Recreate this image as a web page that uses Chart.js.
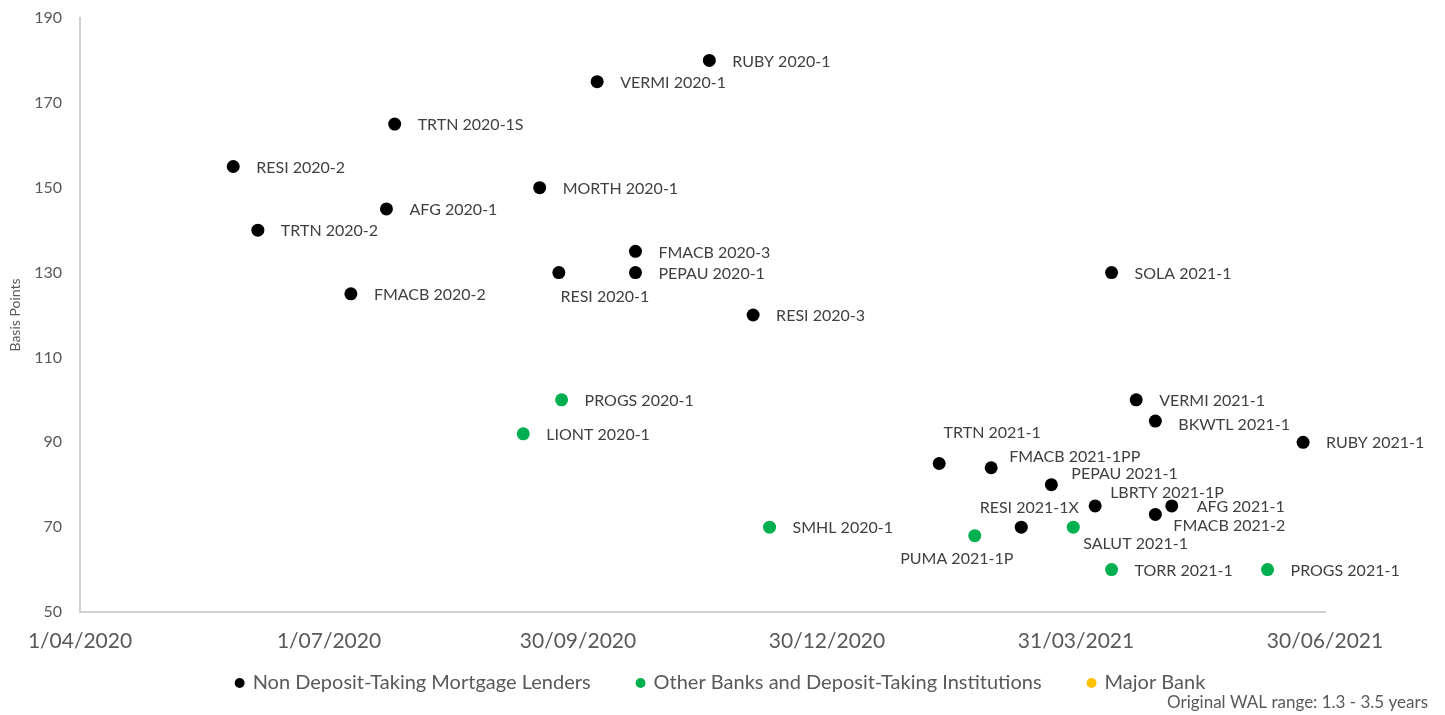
<!DOCTYPE html>
<html><head><meta charset="utf-8">
<script src="https://cdn.jsdelivr.net/npm/chart.js@4.4.1/dist/chart.umd.min.js"></script>
<style>html,body{margin:0;padding:0;background:#fff;overflow:hidden}#wrap{width:1445px;height:715px}</style>
</head><body><div id="wrap"><canvas id="c" width="1445" height="715"></canvas></div>
<script>
const seriesNames = ['Non Deposit-Taking Mortgage Lenders', 'Other Banks and Deposit-Taking Institutions', 'Major Bank'];

const nonBankLabels = ['RUBY 2020-1','VERMI 2020-1','TRTN 2020-1S','RESI 2020-2','MORTH 2020-1','AFG 2020-1','TRTN 2020-2','FMACB 2020-3','RESI 2020-1','PEPAU 2020-1','FMACB 2020-2','RESI 2020-3','SOLA 2021-1','VERMI 2021-1','BKWTL 2021-1','RUBY 2021-1','TRTN 2021-1','FMACB 2021-1PP','PEPAU 2021-1','RESI 2021-1X','LBRTY 2021-1P','AFG 2021-1','FMACB 2021-2'];
const nonBankDates = ['2020-11-17','2020-10-07','2020-07-25','2020-05-27','2020-09-16','2020-07-22','2020-06-05','2020-10-21','2020-09-23','2020-10-21','2020-07-09','2020-12-03','2021-04-13','2021-04-22','2021-04-29','2021-06-22','2021-02-09','2021-02-28','2021-03-22','2021-03-11','2021-04-07','2021-05-05','2021-04-29'];
const nonBankSpreads = [180,175,165,155,150,145,140,135,130,130,125,120,130,100,95,90,85,84,80,70,75,75,73];

const otherBankLabels = ['PROGS 2020-1','LIONT 2020-1','SMHL 2020-1','PUMA 2021-1P','SALUT 2021-1','TORR 2021-1','PROGS 2021-1'];
const otherBankDates = ['2020-09-24','2020-09-10','2020-12-09','2021-02-22','2021-03-30','2021-04-13','2021-06-09'];
const otherBankSpreads = [100,92,70,68,70,60,60];

const majorBankLabels = [];
const majorBankDates = [];
const majorBankSpreads = [];

const xTickDates = ['2020-04-01','2020-07-01','2020-09-30','2020-12-30','2021-03-31','2021-06-30'];
const yTickValues = [50,70,90,110,130,150,170,190];
const yAxisTitle = 'Basis Points';
const footnote = 'Original WAL range: 1.3 - 3.5 years';

// label placement (styling), keyed by label
const defaultLabelPos = {dx: 23, dy: 1, align: 'left'};
const labelPos = {
  'RESI 2020-1': {dx: 46, dy: 24, align: 'center'},
  'TRTN 2021-1': {dx: 53, dy: -31, align: 'center'},
  'FMACB 2021-1PP': {dx: 18, dy: -11, align: 'left'},
  'PEPAU 2021-1': {dx: 20, dy: -11, align: 'left'},
  'LBRTY 2021-1P': {dx: 15, dy: -13, align: 'left'},
  'RESI 2021-1X': {dx: 8, dy: -19, align: 'center'},
  'PUMA 2021-1P': {dx: -18, dy: 23, align: 'center'},
  'SALUT 2021-1': {dx: 10, dy: 17, align: 'left'},
  'FMACB 2021-2': {dx: 18, dy: 11, align: 'left'},
  'BKWTL 2021-1': {dx: 23, dy: 4, align: 'left'},
  'AFG 2021-1': {dx: 25, dy: 1, align: 'left'}
};

const FONT = 'Lato, "Open Sans", sans-serif';
const base = Date.UTC(2020, 3, 1);
function toDay(s) { const [y, m, d] = s.split('-').map(Number); return Math.round((Date.UTC(y, m - 1, d) - base) / 86400000); }
function fmtDay(v) { const dt = new Date(base + v * 86400000); return dt.getUTCDate() + '/' + String(dt.getUTCMonth() + 1).padStart(2, '0') + '/' + dt.getUTCFullYear(); }
function pts(labels, dates, vals) { return labels.map((l, i) => ({x: toDay(dates[i]), y: vals[i], label: l})); }

const pointLabels = {
  id: 'pointLabels',
  afterDatasetsDraw(chart) {
    const ctx = chart.ctx;
    ctx.save();
    ctx.font = '16px ' + FONT;
    ctx.fillStyle = '#404040';
    ctx.textBaseline = 'middle';
    chart.data.datasets.forEach((ds, di) => {
      const meta = chart.getDatasetMeta(di);
      meta.data.forEach((el, i) => {
        const name = ds.data[i].label;
        const o = labelPos[name] || defaultLabelPos;
        ctx.textAlign = o.align;
        ctx.fillText(name, el.x + o.dx, el.y + o.dy);
      });
    });
    ctx.restore();
  }
};

function draw() {
  new Chart(document.getElementById('c'), {
    type: 'scatter',
    data: {
      datasets: [
        {label: seriesNames[0], data: pts(nonBankLabels, nonBankDates, nonBankSpreads), backgroundColor: '#000000', borderColor: '#000000', borderWidth: 0, pointRadius: 6.5, pointHoverRadius: 6.5},
        {label: seriesNames[1], data: pts(otherBankLabels, otherBankDates, otherBankSpreads), backgroundColor: '#00B050', borderColor: '#00B050', borderWidth: 0, pointRadius: 6.5, pointHoverRadius: 6.5},
        {label: seriesNames[2], data: pts(majorBankLabels, majorBankDates, majorBankSpreads), backgroundColor: '#FFC000', borderColor: '#FFC000', borderWidth: 0, pointRadius: 6.5}
      ]
    },
    options: {
      responsive: false, animation: false, devicePixelRatio: 1,
      layout: {padding: {top: 18, right: 17, left: 14, bottom: 1.8}},
      plugins: {
        tooltip: {enabled: false},
        legend: {
          position: 'bottom',
          labels: {usePointStyle: true, pointStyle: 'circle', boxWidth: 6, boxHeight: 7, padding: 47, color: '#595959', font: {family: FONT, size: 20}}
        },
        subtitle: {display: true, text: footnote, position: 'bottom', align: 'end', color: '#595959', font: {family: FONT, size: 17}, padding: {top: -10.2, bottom: 0}}
      },
      scales: {
        x: {
          type: 'linear', min: toDay(xTickDates[0]), max: toDay(xTickDates[xTickDates.length - 1]),
          afterBuildTicks: s => { s.ticks = xTickDates.map(d => ({value: toDay(d)})); },
          afterFit: s => { s.height = 14; s._computeLabelArea = () => undefined; },
          ticks: {callback: v => fmtDay(v), color: '#595959', font: {family: FONT, size: 21}, padding: 17, maxRotation: 0, autoSkip: false},
          grid: {display: false, drawTicks: false},
          border: {display: true, color: '#d0d0d0', width: 2}
        },
        y: {
          min: yTickValues[0], max: yTickValues[yTickValues.length - 1],
          afterBuildTicks: s => { s.ticks = yTickValues.map(v => ({value: v})); },
          afterFit: s => { s.width = 66; s.paddingTop = 0; s.paddingBottom = 0; },
          ticks: {color: '#595959', font: {family: FONT, size: 16}, padding: 18},
          grid: {display: false, drawTicks: false},
          border: {display: true, color: '#d0d0d0', width: 2},
          title: {display: true, text: yAxisTitle, color: '#595959', font: {family: FONT, size: 14}, padding: {top: -7.4, bottom: 0}}
        },
        yRight: {
          position: 'right', display: true, min: 0, max: 1,
          afterFit: s => { s.width = 103; s.paddingTop = 0; s.paddingBottom = 0; },
          ticks: {display: false}, grid: {display: false, drawTicks: false}, border: {display: false}
        }
      }
    },
    plugins: [pointLabels]
  });
}
if (document.fonts && document.fonts.load) {
  Promise.all([document.fonts.load('16px Lato'), document.fonts.load('21px Lato')]).then(draw, draw);
} else { draw(); }
</script></body></html>
